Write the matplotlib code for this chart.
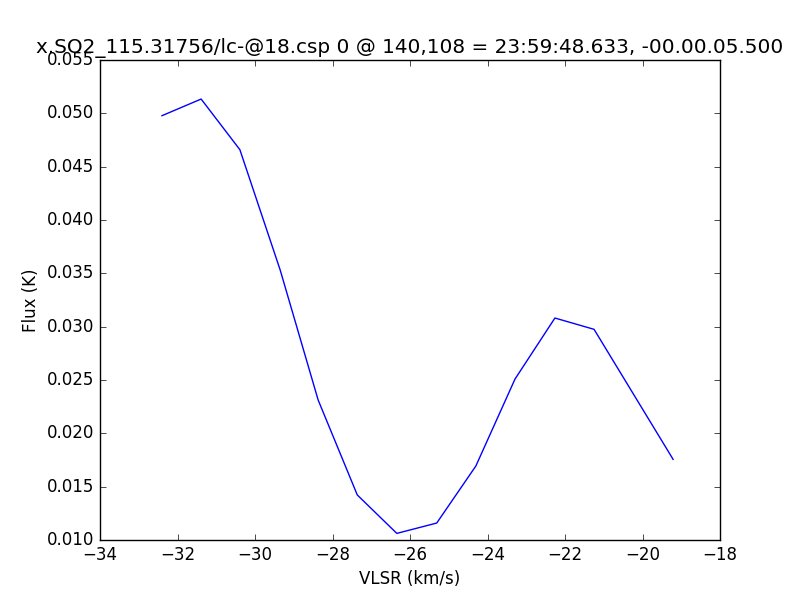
import matplotlib
matplotlib.use("Agg")
import matplotlib.pyplot as plt

plt.style.use('classic')

# Dati dello spettro
vlsr = [-32.40, -31.39, -30.39, -29.35, -28.37, -27.36, -26.34,
        -25.31, -24.30, -23.29, -22.26, -21.25, -19.21]
flux = [0.04978, 0.05134, 0.04659, 0.03531, 0.02312, 0.01422, 0.01062,
        0.01159, 0.01694, 0.02509, 0.03081, 0.02975, 0.01756]

title = "x.SO2_115.31756/lc-@18.csp 0 @ 140,108 = 23:59:48.633, -00.00.05.500"

fig = plt.figure(figsize=(8, 6), dpi=100, facecolor='white')
ax = fig.add_subplot(111)
ax.plot(vlsr, flux, 'b-')
ax.set_xlim(-34, -18)
ax.set_ylim(0.010, 0.055)
ax.set_xlabel('VLSR (km/s)')
ax.set_ylabel('Flux (K)')
ax.set_title(title)

fig.savefig('out.png', dpi=100, facecolor='white')
